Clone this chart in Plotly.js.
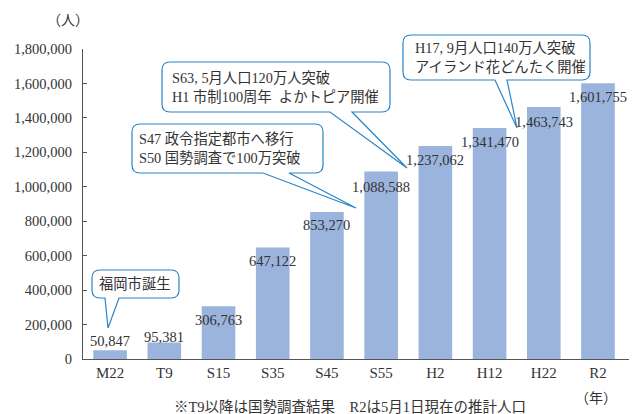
<!DOCTYPE html>
<html>
<head>
<meta charset="utf-8">
<script src="https://cdn.plot.ly/plotly-3.0.1.min.js"></script>
<style>html,body{margin:0;padding:0;background:#fff;}#chart{width:636px;height:414px;}</style>
</head>
<body>
<div id="chart"></div>
<script>
// ---- data ----
const categories = ["M22", "T9", "S15", "S35", "S45", "S55", "H2", "H12", "H22", "R2"];
const population = [50847, 95381, 306763, 647122, 853270, 1088588, 1237062, 1341470, 1463743, 1601755];
const yTicks = [0, 200000, 400000, 600000, 800000, 1000000, 1200000, 1400000, 1600000, 1800000];
const calloutTexts = [
  "福岡市誕生",
  "S47 政令指定都市へ移行<br>S50 国勢調査で100万突破",
  "S63, 5月人口120万人突破<br>H1 市制100周年  よかトピア開催",
  "H17, 9月人口140万人突破<br>アイランド花どんたく開催"
];
const unitY = "（人）";
const unitX = "（年）";
const footnote = "※T9以降は国勢調査結果　R2は5月1日現在の推計人口";

// ---- styling / layout helpers ----
const W = 636, H = 414;
const M = {l: 83, r: 7, t: 49, b: 55};
const PW = W - M.l - M.r, PH = H - M.t - M.b;
const FONT = '"Liberation Serif", "Noto Sans CJK JP", serif';
const TXT = '#333333';
const BLUE = '#2a84c6';
// vertical offsets of value labels relative to bar tops (px)
const labelShift = [9, 6, -14, -13, -13, -15, -14, -14, -15, -14];

function px2x(p){ return (p - M.l) / PW; }
function px2y(p){ return (M.t + PH - p) / PH; }
function pt(x, y){ return px2x(x).toFixed(5) + ',' + px2y(y).toFixed(5); }

// rounded box with a pointer tail (pixel geometry -> paper path)
function calloutPath(L, T, R, B, tL, tR, tipX, tipY, r){
  return 'M' + pt(L + r, T) +
    ' L' + pt(R - r, T) +
    ' Q' + pt(R, T) + ' ' + pt(R, T + r) +
    ' L' + pt(R, B - r) +
    ' Q' + pt(R, B) + ' ' + pt(R - r, B) +
    ' L' + pt(tR, B) +
    ' L' + pt(tipX, tipY) +
    ' L' + pt(tL, B) +
    ' L' + pt(L + r, B) +
    ' Q' + pt(L, B) + ' ' + pt(L, B - r) +
    ' L' + pt(L, T + r) +
    ' Q' + pt(L, T) + ' ' + pt(L + r, T) + ' Z';
}

const boxes = [
  {L: 92, T: 270, R: 179, B: 298, tL: 105, tR: 119, tipX: 108, tipY: 328, textX: 97},
  {L: 132, T: 124, R: 323, B: 173, tL: 263, tR: 289, tipX: 356, tipY: 208, textX: 137},
  {L: 162, T: 62, R: 390, B: 112, tL: 330, tR: 352, tipX: 407, tipY: 168, textX: 170},
  {L: 403, T: 35, R: 590, B: 80, tL: 495, tR: 507, tipX: 517, tipY: 128, textX: 413}
];

const shapes = boxes.map(b => ({
  type: 'path', xref: 'paper', yref: 'paper', layer: 'above',
  path: calloutPath(b.L, b.T, b.R, b.B, b.tL, b.tR, b.tipX, b.tipY, 8),
  fillcolor: '#ffffff', line: {color: BLUE, width: 1.2}
}));

const annotations = [];
// value labels
categories.forEach((c, i) => {
  annotations.push({
    x: c, y: population[i], xref: 'x', yref: 'y',
    text: population[i].toLocaleString('en-US'),
    showarrow: false, xanchor: 'center', yanchor: 'middle', yshift: labelShift[i],
    font: {family: FONT, size: 14.5, color: TXT}
  });
});
// callout texts
boxes.forEach((b, i) => {
  annotations.push({
    xref: 'paper', yref: 'paper', x: px2x(b.textX), y: px2y((b.T + b.B) / 2),
    xanchor: 'left', yanchor: 'middle', align: 'left', showarrow: false,
    text: calloutTexts[i],
    font: {family: FONT, size: 14.3, color: TXT}
  });
});
annotations.push({xref: 'paper', yref: 'paper', x: px2x(68), y: px2y(20), text: unitY,
  showarrow: false, xanchor: 'center', yanchor: 'middle', font: {family: FONT, size: 14, color: TXT}});
annotations.push({xref: 'paper', yref: 'paper', x: px2x(596), y: px2y(398), text: unitX,
  showarrow: false, xanchor: 'center', yanchor: 'middle', font: {family: FONT, size: 14, color: TXT}});
annotations.push({xref: 'paper', yref: 'paper', x: px2x(350), y: px2y(407), text: footnote,
  showarrow: false, xanchor: 'center', yanchor: 'middle', font: {family: FONT, size: 14.5, color: TXT}});

const trace = {
  type: 'bar', x: categories, y: population,
  marker: {color: '#9bb4dd'}, hoverinfo: 'none'
};

const layout = {
  width: W, height: H, margin: M,
  paper_bgcolor: '#ffffff', plot_bgcolor: '#ffffff',
  showlegend: false, bargap: 0.38,
  font: {family: FONT, color: TXT},
  xaxis: {
    type: 'category', categoryorder: 'array', categoryarray: categories,
    showline: true, linecolor: '#555555', linewidth: 1.2, ticks: '',
    tickfont: {family: FONT, size: 15, color: TXT}, showgrid: false, zeroline: false,
    fixedrange: true
  },
  yaxis: {
    range: [0, 1800000], tickvals: yTicks, tickformat: ',d',
    showline: true, linecolor: '#555555', linewidth: 1.2,
    ticks: 'inside', ticklen: 4, tickcolor: '#555555', tickwidth: 1.2,
    ticklabelstandoff: 7,
    tickfont: {family: FONT, size: 14.5, color: TXT}, showgrid: false, zeroline: false,
    fixedrange: true
  },
  shapes: shapes,
  annotations: annotations
};

Plotly.newPlot('chart', [trace], layout, {displayModeBar: false, staticPlot: true});
</script>
</body>
</html>
